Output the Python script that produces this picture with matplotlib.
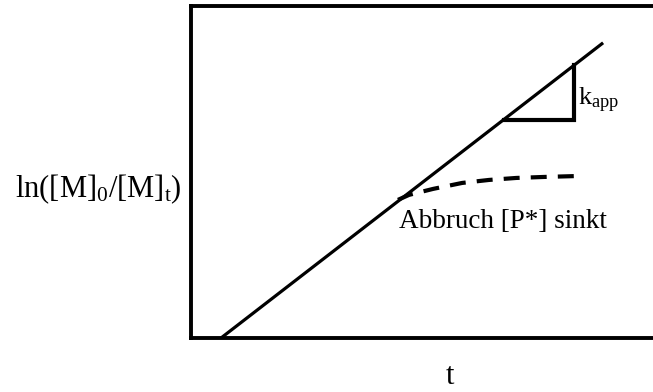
import matplotlib
matplotlib.use('Agg')
from matplotlib import pyplot as plt

plt.rcParams['font.family'] = ['Liberation Serif', 'DejaVu Serif']
plt.rcParams['mathtext.fontset'] = 'custom'
plt.rcParams['mathtext.rm'] = 'Liberation Serif'
plt.rcParams['mathtext.it'] = 'Liberation Serif:italic'
plt.rcParams['lines.scale_dashes'] = False

# Schematic data (arbitrary units)
ideal_t = [0.65, 8.92]
ideal_y = [0.0, 8.89]

slope_t = [6.77, 8.29, 8.29]
slope_y = [6.57, 6.57, 8.22]

abbruch_t = [4.48, 4.72, 5.24, 5.87, 6.45, 7.04, 7.64, 8.42]
abbruch_y = [4.16, 4.31, 4.49, 4.67, 4.76, 4.82, 4.85, 4.88]

fig = plt.figure(figsize=(6.53, 3.92), dpi=100)
ax = fig.add_axes([0.2925, 0.1378, 0.7075, 0.847])
ax.set_xlim(0, 10)
ax.set_ylim(0, 10)

ax.plot(ideal_t, ideal_y, '-', color='black', lw=2.3, solid_capstyle='butt')
ax.plot(slope_t, slope_y, '-', color='black', lw=3.0, solid_joinstyle='miter')
ax.plot(abbruch_t, abbruch_y, color='black', lw=3.0, dashes=(11.5, 8.0))

ax.text(8.38, 7.02, r'k$_{\mathrm{app}}$', fontsize=19, ha='left', va='baseline')
ax.text(4.50, 3.31, 'Abbruch [P*] sinkt', fontsize=19.5, ha='left', va='baseline')

ax.set_xticks([])
ax.set_yticks([])
for side in ['left', 'top', 'bottom']:
    ax.spines[side].set_linewidth(2.8)
ax.spines['right'].set_visible(False)

ax.set_ylabel(r'ln([M]$_{0}$/[M]$_{\mathrm{t}}$)', fontsize=22, rotation=0,
              ha='right', va='center')
ax.yaxis.set_label_coords(-0.02, 0.449)
ax.set_xlabel('t', fontsize=22, va='baseline')
ax.xaxis.set_label_coords(0.56, -0.14)

fig.savefig('out.png', dpi=100)
